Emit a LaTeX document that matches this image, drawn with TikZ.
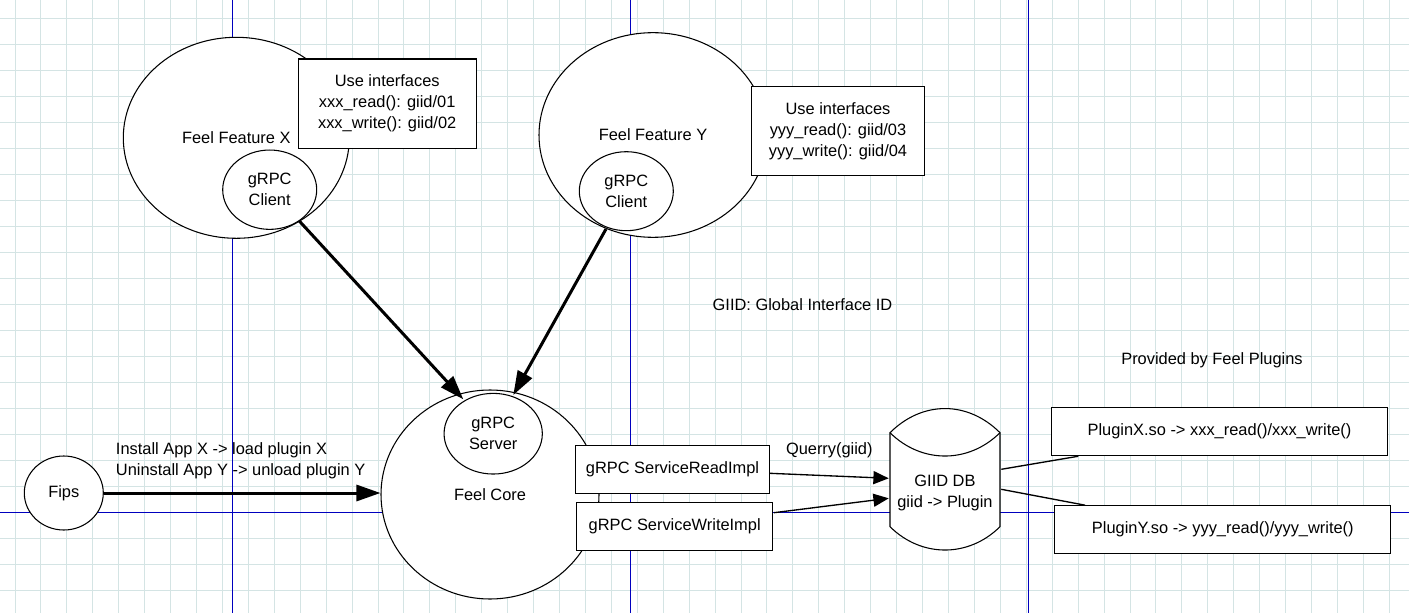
\documentclass[tikz,border=0pt]{standalone}
\usepackage{fontspec}
\setmainfont{Liberation Sans}
\usetikzlibrary{shapes.geometric,arrows.meta,calc}
\definecolor{gridc}{RGB}{212,228,228}
\definecolor{majc}{RGB}{0,0,190}
\begin{document}
\begin{tikzpicture}[x=0.75pt,y=-0.75pt,
  txt/.style={font=\fontsize{12.3}{15.75}\selectfont, align=center},
  shp/.style={draw, line width=0.8pt, fill=white, inner sep=0pt, txt},
  ell/.style={shp, ellipse},
  boxn/.style={shp, rectangle},
  bigarrow/.style={line width=2.25pt, -{Triangle[length=18pt,width=12pt]}},
  smallarrow/.style={line width=1pt, -{Triangle[length=11.5pt,width=9.75pt]}},
  plainline/.style={line width=1pt}
]
\useasboundingbox (0,0) rectangle (1409,613);
\fill[white] (0,0) rectangle (1409,613);
\foreach \k in {0,...,53} \draw[gridc, line width=0.75pt] ({15+25.93*\k},0) -- ({15+25.93*\k},613);
\foreach \k in {0,...,18,20,21,22} \draw[gridc, line width=0.75pt] (0,{18.3+26*\k}) -- (1409,{18.3+26*\k});
\foreach \xx in {232.3,630.3,1028.3} \draw[majc, line width=0.75pt] (\xx,0) -- (\xx,613);
\draw[majc, line width=0.75pt] (0,512) -- (1409,512);

% Feature X
\node[ell, minimum width=169.5pt, minimum height=150.75pt] (fx) at (236.3,137.8) {Feel Feature X};
\node[ell, minimum width=70.5pt, minimum height=59.5pt] (cx) at (269.7,189.7) {gRPC\\Client};
\node[boxn, minimum width=133.3pt, minimum height=67pt] (ix) at (387.2,103.7) {Use interfaces\\xxx\_read(): giid/01\\xxx\_write(): giid/02};

% Feature Y
\node[ell, minimum width=171pt, minimum height=153.5pt] (fy) at (653,135) {Feel Feature Y};
\node[ell, minimum width=70.5pt, minimum height=59.25pt] (cy) at (626.3,191.2) {gRPC\\Client};
\node[boxn, minimum width=129.5pt, minimum height=67pt] (iy) at (838,131.3) {Use interfaces\\yyy\_read(): giid/03\\yyy\_write(): giid/04};

% Core
\node[ell, minimum width=163.5pt, minimum height=156.75pt] (core) at (490,494.5) {Feel Core};
\node[ell, minimum width=73.7pt, minimum height=60.5pt] (srv) at (493.2,433.7) {gRPC\\Server};
\node[boxn, minimum width=145.2pt, minimum height=35.7pt] (rd) at (672.5,469.5) {gRPC ServiceReadImpl};
\node[boxn, minimum width=147pt, minimum height=36pt] (wr) at (674.7,526.7) {gRPC ServiceWriteImpl};

% DB cylinder (lens-shaped top)
\draw[line width=0.8pt, fill=white] (890,432.7) .. controls (922.4,400.5) and (967.6,400.5) .. (1000,432.7) -- (1000,526.7) .. controls (968.5,557.8) and (921.5,557.8) .. (890,526.7) -- cycle;
\draw[line width=0.8pt] (890,432.7) .. controls (921.5,463.8) and (968.5,463.8) .. (1000,432.7);
\node[minimum width=82.5pt, minimum height=70.5pt, inner sep=0pt] (db) at (945,479.7) {};
\node[txt] (dbtxt) at (945,493) {GIID DB\\giid -> Plugin};

% Plugins
\node[boxn, minimum width=251.7pt, minimum height=36pt] (px) at (1219.5,431.7) {PluginX.so -> xxx\_read()/xxx\_write()};
\node[boxn, minimum width=251.8pt, minimum height=35.7pt] (py) at (1222.8,529.5) {PluginY.so -> yyy\_read()/yyy\_write()};

% Fips
\node[ell, minimum width=59.25pt, minimum height=55.5pt] (fips) at (63.8,493) {Fips};

% Free texts
\node[txt] (giid) at (802.5,305) {GIID: Global Interface ID};
\node[txt] (prov) at (1212,360.7) {Provided by Feel Plugins};
\node[txt, align=left, anchor=west, inner sep=0pt] (inst) at (115.7,461.2) {Install App X -> load plugin X\\Uninstall App Y -> unload plugin Y};

% Connectors
\draw[bigarrow] ($(cx)+(29.6,31.3)$) -- ($(srv)+(-29.9,-34.4)$);
\draw[bigarrow] ($(cy)+(-20.3,37.8)$) -- ($(srv)+(20.1,-38.7)$);
\draw[bigarrow] (fips.east) -- (fips.east -| core.west);
\draw[smallarrow] ($(rd.east)+(0,3.8)$) -- node[txt, yshift=18.8pt] (q) {Querry(giid)} ($(db.west)+(-1,-1.4)$);
\draw[smallarrow] ($(wr.east)+(0.6,-14)$) -- ($(db.west)+(-1,18.6)$);
\draw[plainline] ($(db.east)+(1,-10.4)$) -- ($(px.south)+(-141.2,0)$);
\draw[plainline] ($(db.east)+(1,9.6)$) -- ($(py.north)+(-137.8,0)$);
\end{tikzpicture}
\end{document}
